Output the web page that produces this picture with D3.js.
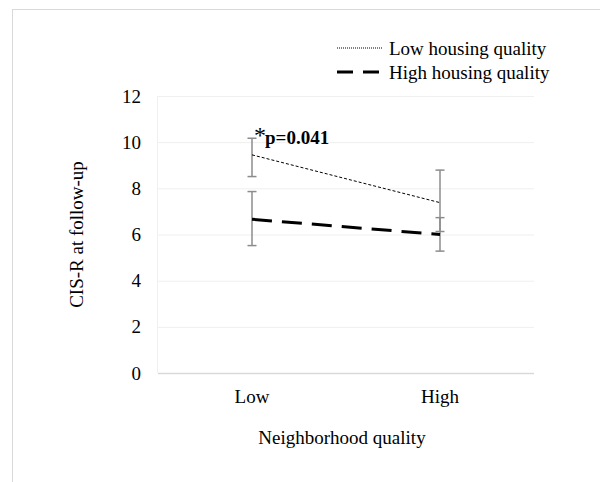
<!DOCTYPE html>
<html>
<head>
<meta charset="utf-8">
<script src="https://cdn.jsdelivr.net/npm/d3@7"></script>
<style>
  body { margin: 0; background: #fff; }
  text { font-family: "Liberation Serif", "Times New Roman", serif; fill: #000; }
</style>
</head>
<body>
<svg id="chart" width="600" height="482"></svg>
<script>
// neighborhood quality categories
const categories = ["Low", "High"];
const yTicks = [0, 2, 4, 6, 8, 10, 12];

// CIS-R means and error bar ends, per housing quality
const lowHousing = [9.45, 7.38];
const lowHousingUpper = [10.17, 8.79];
const lowHousingLower = [8.51, 6.13];

const highHousing = [6.66, 6.0];
const highHousingUpper = [7.86, 6.73];
const highHousingLower = [5.52, 5.28];

const seriesNames = ["Low housing quality", "High housing quality"];

const svg = d3.select("#chart");
const w = 600, h = 482;
const margin = { top: 96, right: 66, bottom: 109, left: 158 };
const fs = "19px";

// outer chart frame (clipped by window)
svg.append("rect")
  .attr("x", 12.5).attr("y", 9.5)
  .attr("width", 620).attr("height", 500)
  .attr("fill", "none").attr("stroke", "#d9d9d9");

const xScale = d3.scaleBand()
  .domain(categories)
  .range([margin.left, w - margin.right]);

const yScale = d3.scaleLinear()
  .domain([0, 12])
  .range([h - margin.bottom, margin.top]);

const cx = d => xScale(d) + xScale.bandwidth() / 2;

// grid lines
svg.append("g")
  .selectAll("line")
  .data(yTicks.filter(d => d > 0))
  .enter().append("line")
  .attr("x1", margin.left).attr("x2", w - margin.right)
  .attr("y1", d => yScale(d) + 0.5).attr("y2", d => yScale(d) + 0.5)
  .attr("stroke", "#efefef").attr("stroke-width", 1);

// left spine (very light)
svg.append("line")
  .attr("x1", margin.left - 0.5).attr("x2", margin.left - 0.5)
  .attr("y1", yScale(12)).attr("y2", yScale(0))
  .attr("stroke", "#f0f0f0");

// y axis labels
svg.append("g")
  .selectAll("text")
  .data(yTicks)
  .enter().append("text")
  .attr("x", 141)
  .attr("y", d => yScale(d))
  .attr("dy", "0.35em")
  .attr("text-anchor", "end")
  .style("font-size", fs)
  .text(d => d);

// x axis line
svg.append("line")
  .attr("x1", margin.left).attr("x2", w - margin.right)
  .attr("y1", yScale(0) + 0.5).attr("y2", yScale(0) + 0.5)
  .attr("stroke", "#d9d9d9").attr("stroke-width", 1.5);

// x labels
svg.append("g")
  .selectAll("text")
  .data(categories)
  .enter().append("text")
  .attr("x", d => cx(d))
  .attr("y", 396)
  .attr("dy", "0.35em")
  .attr("text-anchor", "middle")
  .style("font-size", fs)
  .text(d => d);

// axis titles
svg.append("text")
  .attr("x", 342).attr("y", 437)
  .attr("dy", "0.35em")
  .attr("text-anchor", "middle")
  .style("font-size", fs)
  .text("Neighborhood quality");

svg.append("text")
  .attr("transform", `translate(76,${(yScale(0) + yScale(12)) / 2}) rotate(-90)`)
  .attr("dy", "0.35em")
  .attr("text-anchor", "middle")
  .style("font-size", fs)
  .text("CIS-R at follow-up");

// error bars
function errorBars(upper, lower) {
  const g = svg.append("g").attr("stroke", "#8c8c8c").attr("stroke-width", 1.5);
  categories.forEach((c, i) => {
    g.append("line")
      .attr("x1", cx(c)).attr("x2", cx(c))
      .attr("y1", yScale(upper[i])).attr("y2", yScale(lower[i]));
    [upper[i], lower[i]].forEach(v => {
      g.append("line")
        .attr("x1", cx(c) - 4.5).attr("x2", cx(c) + 4.5)
        .attr("y1", yScale(v)).attr("y2", yScale(v));
    });
  });
}
errorBars(lowHousingUpper, lowHousingLower);
errorBars(highHousingUpper, highHousingLower);

const line = d3.line()
  .x((d, i) => cx(categories[i]))
  .y(d => yScale(d));

svg.append("path")
  .datum(lowHousing)
  .attr("d", line)
  .attr("fill", "none")
  .attr("stroke", "#000")
  .attr("stroke-width", 1)
  .attr("stroke-dasharray", "3,2");

svg.append("path")
  .datum(highHousing)
  .attr("d", line)
  .attr("fill", "none")
  .attr("stroke", "#000")
  .attr("stroke-width", 3)
  .attr("stroke-dasharray", "20,10");

// significance annotation
svg.append("text")
  .attr("x", 254).attr("y", 143)
  .style("font-size", "24px")
  .text("*");
svg.append("text")
  .attr("x", 265).attr("y", 144)
  .style("font-size", fs)
  .style("font-weight", "bold")
  .text("p=0.041");

// legend
const legend = svg.append("g");
const legendY = [48, 72];
legend.append("line")
  .attr("x1", 337).attr("x2", 383)
  .attr("y1", legendY[0]).attr("y2", legendY[0])
  .attr("stroke", "#000").attr("stroke-width", 1)
  .attr("stroke-dasharray", "1,1");
legend.append("line")
  .attr("x1", 337).attr("x2", 383)
  .attr("y1", legendY[1]).attr("y2", legendY[1])
  .attr("stroke", "#000").attr("stroke-width", 3)
  .attr("stroke-dasharray", "16,10");
legend.selectAll("text")
  .data(seriesNames)
  .enter().append("text")
  .attr("x", 389)
  .attr("y", (d, i) => legendY[i])
  .attr("dy", "0.35em")
  .style("font-size", fs)
  .text(d => d);
</script>
</body>
</html>
